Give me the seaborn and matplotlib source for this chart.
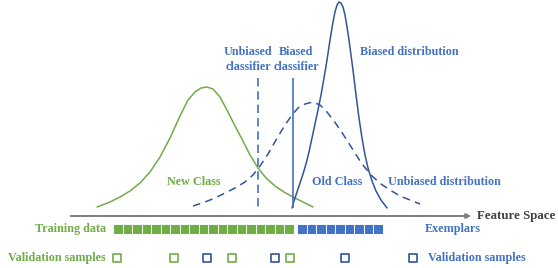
import numpy as np
import pandas as pd
import matplotlib.pyplot as plt
import seaborn as sns

# --- data (x = feature position, y = screen row, top = 0) ---
new_class_x = [97, 110, 120, 130, 140, 150, 160, 170, 180, 188, 195, 201, 207, 213, 220, 228, 235,
               243, 250, 258, 266, 275, 284, 293, 303, 313]
new_class_y = [207, 202, 197, 191, 183, 172, 157, 138, 116, 100, 92, 88, 87, 89, 97, 112, 126,
               141, 155, 168, 178, 186, 192, 197, 202, 207]

unbiased_x = [193, 205, 215, 225, 235, 245, 253, 260, 268, 276, 285, 292, 298, 305, 313, 320, 327,
              334, 341, 348, 355, 362, 372, 381, 390, 400, 410, 420]
unbiased_y = [206, 202, 198, 193, 188, 182, 175, 166, 154, 140, 125, 115, 108, 104, 102, 105, 112,
              121, 131, 142, 153, 164, 176, 184, 190, 196, 200, 204]

biased_x = [292, 294, 297, 300, 303, 306, 309, 312, 315, 318, 321, 324, 327, 330, 333, 335, 337, 339,
            341, 343, 345, 347, 349, 351, 353, 356, 359, 362, 365, 368, 372, 376, 381, 387]
biased_y = [208, 201, 192, 183, 174, 164, 152, 138, 124, 110, 95, 78, 60, 40, 22, 12, 5, 2,
            3, 7, 15, 27, 40, 55, 70, 95, 118, 138, 155, 168, 181, 191, 200, 208]

unbiased_clf_x = 258
biased_clf_x = 293

train_new_n = 19
train_old_n = 9
train_x = list(np.linspace(118, 289, train_new_n)) + list(np.linspace(302, 378, train_old_n))
train_cls = ['new'] * train_new_n + ['old'] * train_old_n

val_x = [117, 174, 207, 232, 275, 290, 345, 413]
val_cls = ['new', 'new', 'old', 'new', 'old', 'new', 'old', 'old']

GREEN = '#70AD47'
BLUE = '#4472C4'
DARK = '#2F5597'

sns.set_style('white')
plt.rcParams['font.family'] = ['Liberation Serif', 'DejaVu Serif']

fig = plt.figure(figsize=(5.58, 2.68), dpi=100)
ax = fig.add_axes([0, 0, 1, 1])

sns.lineplot(x=new_class_x, y=new_class_y, ax=ax, color=GREEN, lw=1.1, sort=False, estimator=None)
sns.lineplot(x=unbiased_x, y=unbiased_y, ax=ax, color=DARK, lw=1.1, sort=False, estimator=None,
             linestyle=(0, (5, 3.5)))
sns.lineplot(x=biased_x, y=biased_y, ax=ax, color=DARK, lw=1.1, sort=False, estimator=None)

ax.vlines(unbiased_clf_x, 78, 208, color=BLUE, lw=1.2, linestyles=(0, (5, 3)))
ax.vlines(biased_clf_x, 78, 208, color=BLUE, lw=1.2)

# feature axis
ax.annotate('', xy=(474, 216), xytext=(68, 216),
            arrowprops=dict(arrowstyle='-|>', color='#7F7F7F', lw=1.4, mutation_scale=7))
ax.text(477, 216, 'Feature Space', color='#404040', fontsize=9.3, fontweight='bold', va='center')

# training data / exemplars
tr = pd.DataFrame({'x': train_x, 'y': 229, 'cls': train_cls})
sns.scatterplot(data=tr, x='x', y='y', hue='cls', palette={'new': GREEN, 'old': BLUE},
                marker='s', s=30, linewidth=0.8, legend=False, ax=ax)
coll = ax.collections[-1]
coll.set_edgecolor(coll.get_facecolor())
coll.set_joinstyle('round')

va = pd.DataFrame({'x': val_x, 'y': 258, 'cls': val_cls})
for c, col in [('new', GREEN), ('old', DARK)]:
    sub = va[va.cls == c]
    ax.scatter(sub.x, sub.y, marker='s', s=26, facecolors='white', edgecolors=col, linewidths=1.2)

bold = dict(fontsize=8.7, fontweight='bold')
ax.text(106, 229, 'Training data', color=GREEN, ha='right', va='center', **bold)
ax.text(106, 258, 'Validation samples', color=GREEN, ha='right', va='center', **bold)
ax.text(425, 229, 'Exemplars', color=BLUE, ha='left', va='center', **bold)
ax.text(428, 258, 'Validation samples', color=BLUE, ha='left', va='center', **bold)

ax.text(248, 59.5, 'Unbiased\nclassifier', color=BLUE, ha='center', va='center', linespacing=1.25, **bold)
ax.text(296, 59.5, 'Biased\nclassifier', color=BLUE, ha='center', va='center', linespacing=1.25, **bold)
ax.text(360, 52, 'Biased distribution', color=BLUE, ha='left', va='center', **bold)
ax.text(194, 182, 'New Class', color=GREEN, ha='center', va='center', **bold)
ax.text(312, 182, 'Old Class', color=BLUE, ha='left', va='center', **bold)
ax.text(388, 182, 'Unbiased distribution', color=BLUE, ha='left', va='center', **bold)

ax.set_xlim(0, 558)
ax.set_ylim(268, 0)
ax.set_axis_off()

plt.savefig('out.png', dpi=100)
